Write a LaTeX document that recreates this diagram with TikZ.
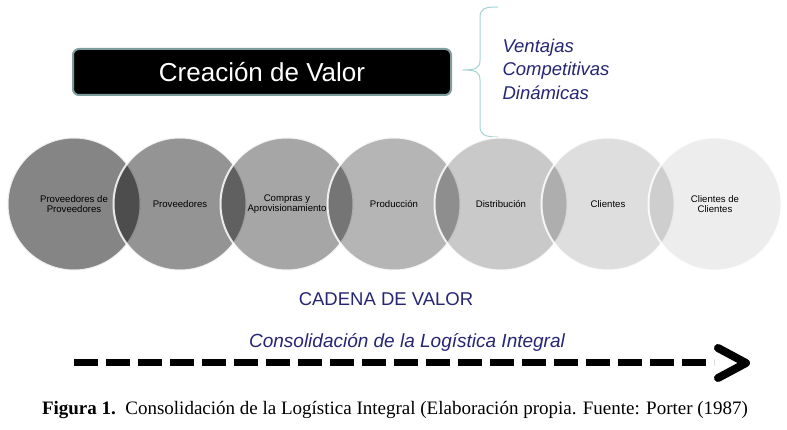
\documentclass[tikz,border=0pt]{standalone}
\usepackage{fontspec}
\setmainfont{Liberation Serif}
\setsansfont{Liberation Sans}
\begin{document}
\begin{tikzpicture}[x=1pt,y=-1pt,
  bubble/.style={circle, minimum size=133pt, inner sep=0pt, fill=black, draw=white, draw opacity=0.85, line width=2pt, text opacity=1, font=\sffamily\fontsize{9.6}{10.5}\selectfont, align=center, text=black},
  navy/.style={text=navyc, font=\sffamily\fontsize{18.5}{23}\selectfont},
  ]
\definecolor{navyc}{HTML}{262674}
\definecolor{bracec}{HTML}{A6D2D2}
\definecolor{boxedge}{HTML}{7E9C9E}
\useasboundingbox (0,0) rectangle (787,430);
\fill[white] (0,0) rectangle (787,430);
% title box
\node[draw=boxedge, line width=2pt, fill=black, rounded corners=6pt, minimum width=378pt, minimum height=46pt, text=white, font=\sffamily\fontsize{26}{28}\selectfont] (title) at (262,72) {Creación de Valor};
% brace
\draw[bracec, line width=1pt] (498,7) .. controls (485,7) and (480,8) .. (480,18) -- (480,60) .. controls (480,68) and (476,70) .. (463,70) .. controls (476,70) and (480,72) .. (480,80) -- (480,126) .. controls (480,135) and (485,137) .. (498,137);
\node[navy, font=\sffamily\itshape\fontsize{18.5}{23.5}\selectfont, anchor=west, align=left] (ventajas) at (499,69) {Ventajas\\Competitivas\\Dinámicas};
% circles
\node[bubble, fill opacity=0.48] (c1) at (74,204) {Proveedores de\\Proveedores};
\node[bubble, fill opacity=0.42] (c2) at (180,204) {Proveedores};
\node[bubble, fill opacity=0.35] (c3) at (287,204) {Compras y\\Aprovisionamiento};
\node[bubble, fill opacity=0.29] (c4) at (394,204) {Producción};
\node[bubble, fill opacity=0.21] (c5) at (501,204) {Distribución};
\node[bubble, fill opacity=0.13] (c6) at (608,204) {Clientes};
\node[bubble, fill opacity=0.07] (c7) at (715,204) {Clientes de\\Clientes};
% labels
\node[navy] (cadena) at (386,299) {CADENA DE VALOR};
\node[navy, font=\sffamily\itshape\fontsize{19}{22}\selectfont] (consol) at (407,342) {Consolidación de la Logística Integral};
% arrow
\coordinate (a0) at (74,362.5);
\coordinate (a1) at (714,362.5);
\coordinate (t0) at (718,348);
\coordinate (t1) at (746,363);
\coordinate (t2) at (718,378);
\draw[line width=7pt, dash pattern=on 24pt off 8pt] (a0) -- (a1);
\draw[line width=8pt, line cap=round, line join=round] (t0) -- (t1) -- (t2);
% caption
\node[font=\fontsize{19}{22}\selectfont] (caption) at (395,410) {\textbf{Figura 1.}\ \ Consolidación de la Logística Integral (Elaboración propia. Fuente: Porter (1987)};
\end{tikzpicture}
\end{document}
